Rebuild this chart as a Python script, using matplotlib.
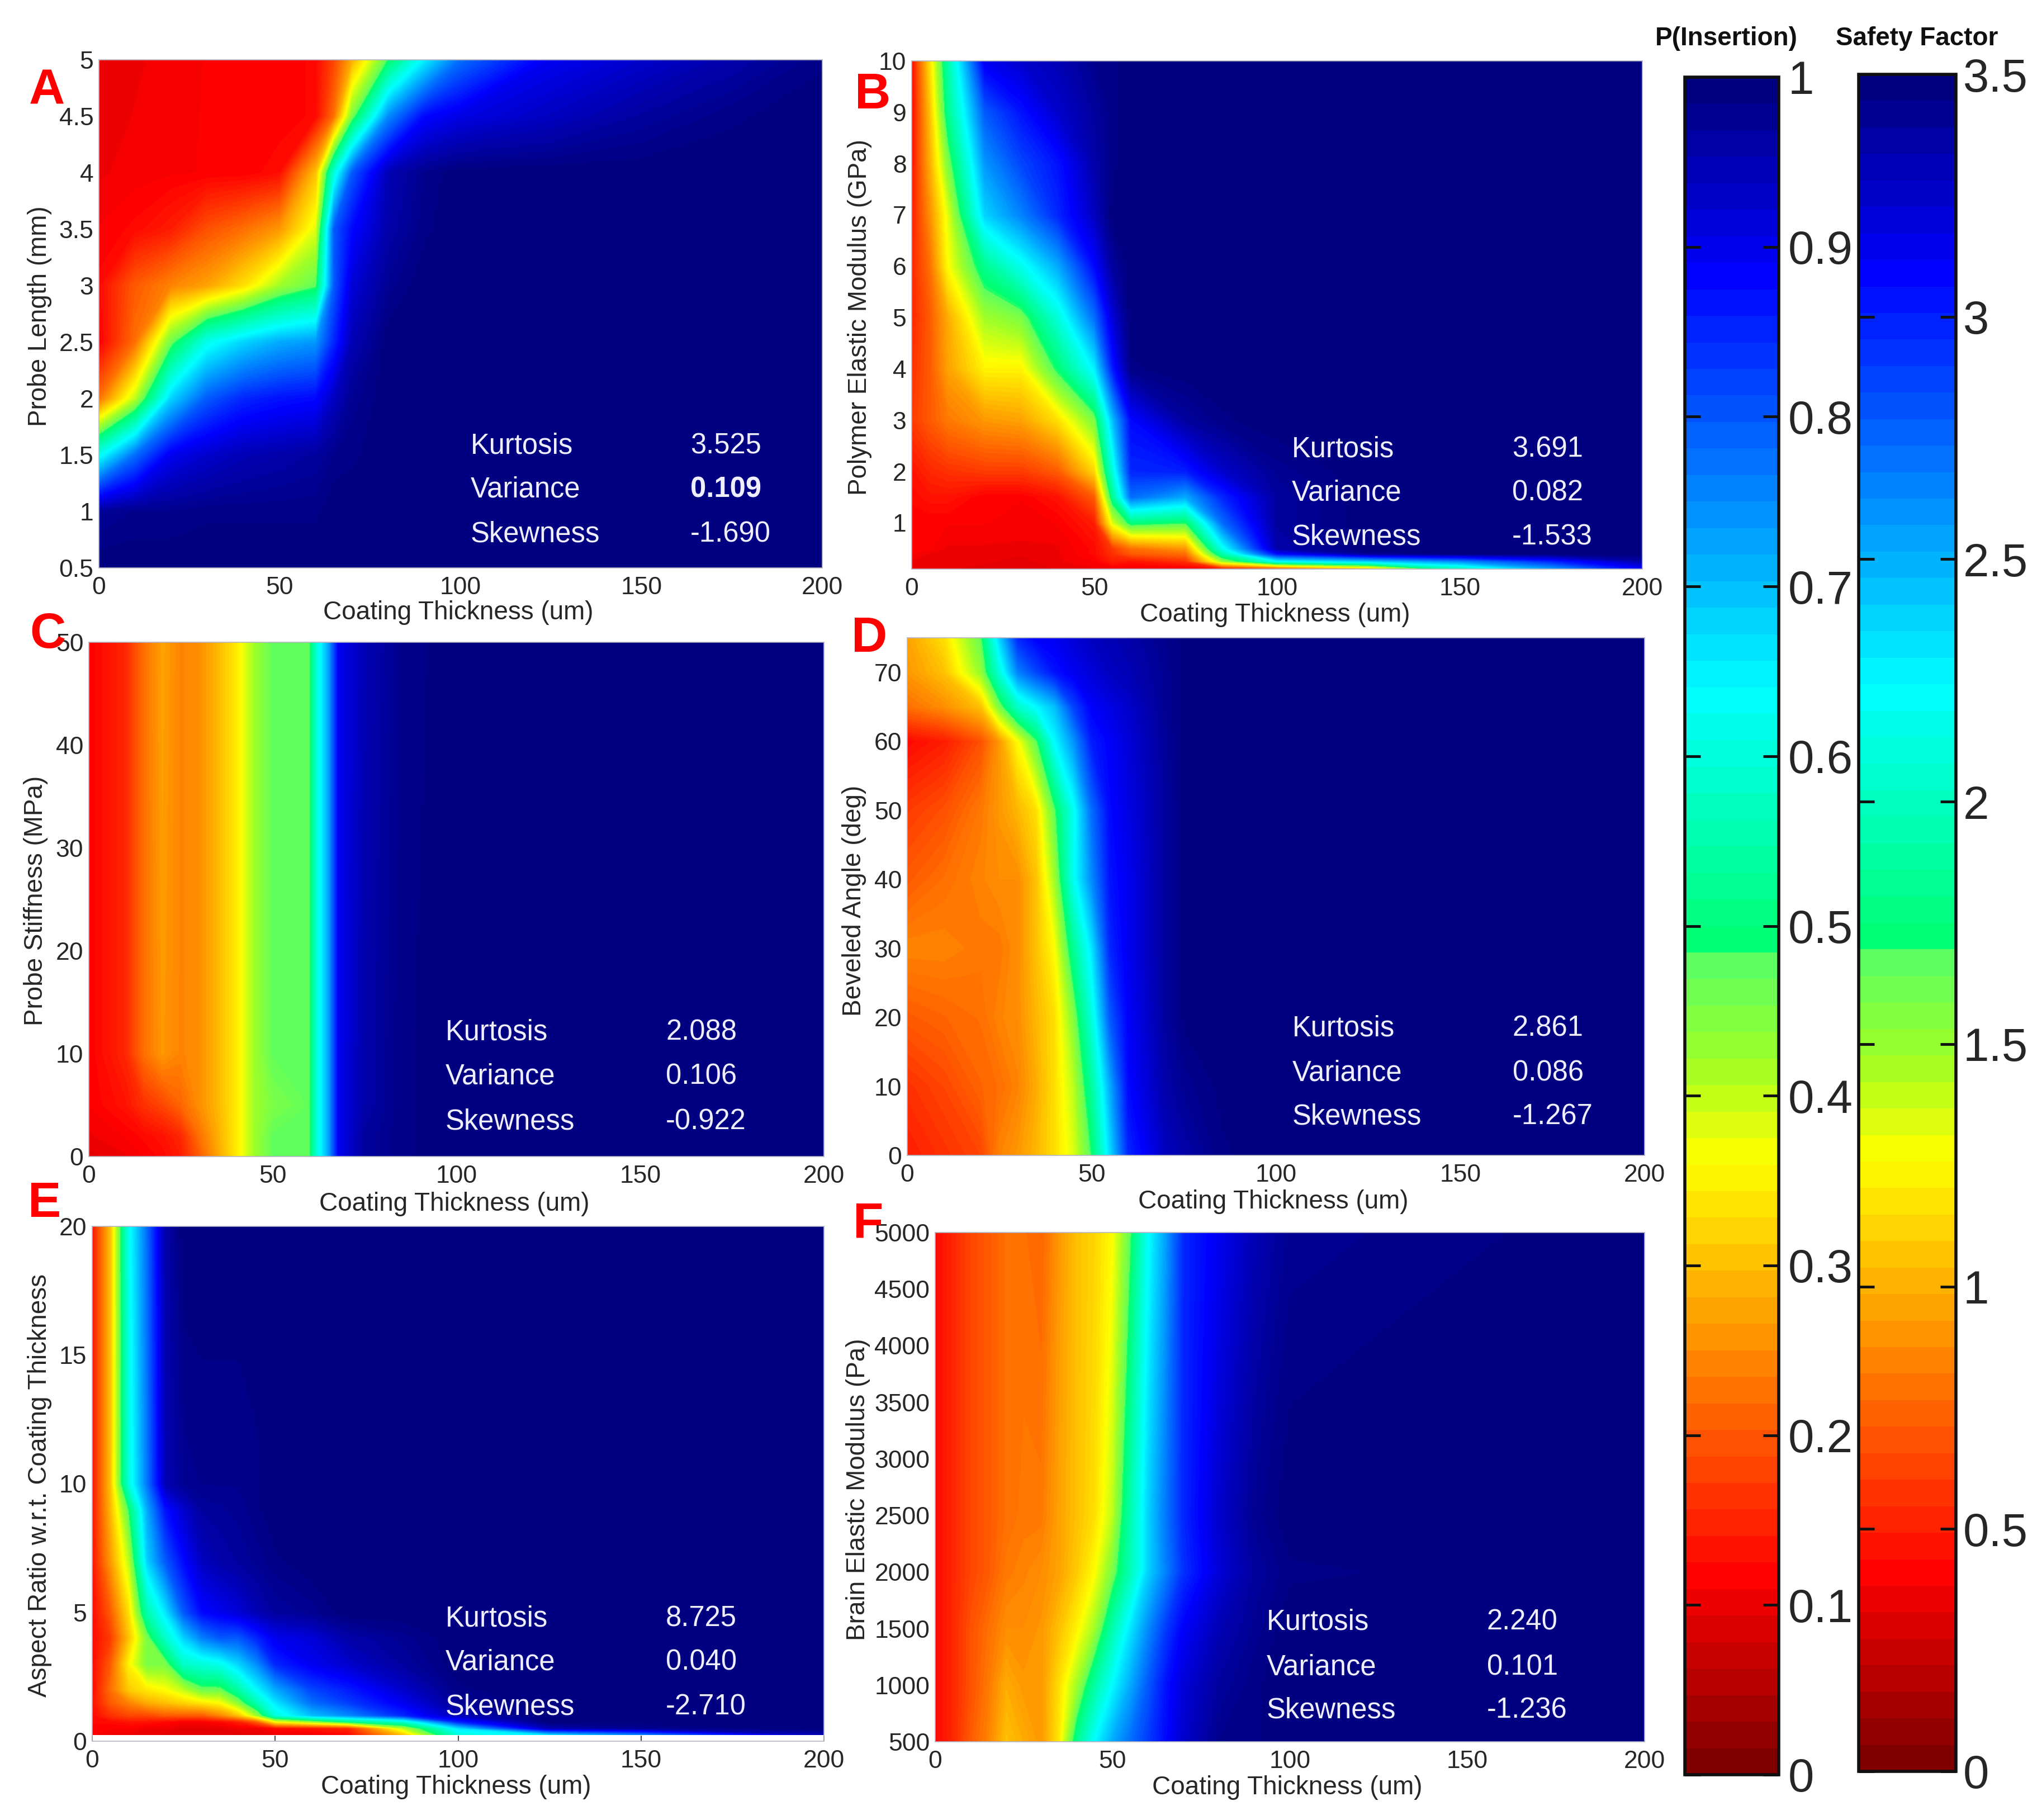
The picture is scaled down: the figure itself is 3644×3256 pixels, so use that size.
#!/usr/bin/env python3
"""Six insertion probability contour maps with two shared colour bars."""
import numpy as np
import matplotlib
matplotlib.use("Agg")
import matplotlib.pyplot as plt
from matplotlib.cm import ScalarMappable
from matplotlib.colors import LinearSegmentedColormap, Normalize

W, H = 3644, 3256

# --- data ---
A_X = [0, 10, 20, 30, 40, 50, 60, 65, 70, 80, 90, 100, 125, 150, 175, 200]
A_Y = [0.5, 1, 1.5, 2, 2.5, 3, 3.5, 4, 4.5, 5]
A_Z = [
    [1, 1, 1, 1, 1, 1, 1, 1, 1, 1, 1, 1, 1, 1, 1, 1],
    [.975, .985, .985, .99, .99, .99, .99, 1, 1, 1, 1, 1, 1, 1, 1, 1],
    [.62, .78, .9, .93, .95, .96, .97, .985, .99, 1, 1, 1, 1, 1, 1, 1],
    [.22, .4, .68, .8, .85, .87, .88, .94, .98, 1, 1, 1, 1, 1, 1, 1],
    [.11, .22, .46, .62, .68, .72, .74, .85, .95, 1, 1, 1, 1, 1, 1, 1],
    [.12, .2, .24, .27, .33, .42, .47, .8, .92, .98, 1, 1, 1, 1, 1, 1],
    [.11, .12, .14, .19, .22, .26, .38, .8, .88, .96, .99, 1, 1, 1, 1, 1],
    [.1, .105, .108, .11, .11, .125, .3, .6, .8, .95, .985, 1, 1, 1, 1, 1],
    [.097, .102, .107, .11, .11, .11, .12, .22, .45, .75, .88, .91, .94, .97, .99, 1],
    [.095, .1, .105, .11, .11, .11, .12, .18, .28, .48, .65, .78, .9, .93, .96, .99],
]

B_X = [0, 5, 10, 20, 30, 40, 50, 55, 60, 75, 85, 100, 125, 150, 175, 200]
B_Y = [0.1, 0.25, 0.4, 0.5, 1, 1.5, 2, 3, 4, 5, 6, 7, 8, 9, 10]
B_Z = [
    [.1, .1, .095, .09, .085, .095, .1, .1, .1, .1, .12, .16, .28, .55, .72, .88],
    [.1, .1, .1, .095, .09, .1, .11, .14, .13, .16, .42, .63, .68, .75, .85, .96],
    [.11, .1, .1, .1, .095, .1, .12, .16, .2, .22, .55, .88, .98, 1, 1, 1],
    [.11, .11, .1, .1, .1, .1, .12, .17, .22, .26, .62, .96, 1, 1, 1, 1],
    [.11, .11, .11, .11, .105, .11, .14, .38, .5, .48, .78, .97, 1, 1, 1, 1],
    [.12, .13, .13, .11, .11, .13, .2, .52, .78, .72, .85, .97, 1, 1, 1, 1],
    [.13, .15, .16, .17, .17, .2, .32, .6, .85, .86, .93, .98, 1, 1, 1, 1],
    [.17, .2, .23, .26, .27, .33, .45, .7, .88, .97, .99, 1, 1, 1, 1, 1],
    [.16, .2, .27, .35, .35, .49, .65, .86, .99, 1, 1, 1, 1, 1, 1, 1],
    [.15, .2, .28, .42, .45, .6, .78, .92, 1, 1, 1, 1, 1, 1, 1, 1],
    [.15, .22, .36, .52, .62, .72, .88, .97, 1, 1, 1, 1, 1, 1, 1, 1],
    [.14, .25, .38, .68, .76, .85, .94, 1, 1, 1, 1, 1, 1, 1, 1, 1],
    [.13, .28, .45, .74, .82, .87, .96, .99, 1, 1, 1, 1, 1, 1, 1, 1],
    [.12, .3, .52, .8, .87, .93, .97, .99, 1, 1, 1, 1, 1, 1, 1, 1],
    [.12, .33, .55, .9, .93, .95, .985, .99, 1, 1, 1, 1, 1, 1, 1, 1],
]

C_X = [0, 10, 15, 20, 25, 30, 35, 40, 45, 50, 60, 62, 65, 68, 75, 85, 100, 200]
C_Y = [0, 2, 5, 10, 50]
C_Z = [
    [.09, .1, .11, .12, .14, .2, .27, .34, .42, .47, .47, .6, .72, .9, .97, .99, 1, 1],
    [.1, .11, .12, .13, .15, .22, .28, .34, .42, .47, .47, .6, .72, .9, .97, .99, 1, 1],
    [.11, .13, .16, .18, .21, .25, .29, .34, .42, .45, .47, .6, .72, .9, .96, .99, 1, 1],
    [.11, .15, .22, .26, .24, .25, .29, .34, .42, .47, .47, .6, .72, .9, .96, .99, 1, 1],
    [.11, .15, .22, .27, .24, .25, .29, .34, .42, .47, .47, .6, .72, .9, .95, .985, 1, 1],
]

D_X = [0, 10, 20, 25, 30, 35, 40, 45, 50, 55, 60, 70, 75, 85, 100, 200]
D_Y = [0, 10, 20, 30, 40, 50, 60, 65, 70, 75]
D_Z = [
    [.14, .16, .18, .24, .26, .29, .33, .38, .48, .67, .85, .94, .96, .99, 1, 1],
    [.16, .18, .21, .22, .24, .28, .33, .4, .53, .72, .88, .96, .98, .995, 1, 1],
    [.2, .21, .22, .24, .25, .29, .33, .44, .6, .8, .89, .97, .995, 1, 1, 1],
    [.24, .24, .23, .23, .25, .3, .36, .52, .66, .85, .9, .97, .995, 1, 1, 1],
    [.2, .22, .24, .25, .25, .3, .42, .62, .75, .87, .9, .97, .995, 1, 1, 1],
    [.17, .19, .23, .26, .29, .33, .47, .62, .78, .88, .91, .97, .995, 1, 1, 1],
    [.12, .14, .19, .26, .36, .47, .64, .74, .86, .89, .92, .975, .995, 1, 1, 1],
    [.22, .25, .3, .45, .58, .64, .7, .82, .89, .91, .93, .98, .995, 1, 1, 1],
    [.26, .3, .43, .6, .76, .82, .87, .9, .92, .94, .95, .98, .995, 1, 1, 1],
    [.27, .33, .47, .68, .85, .89, .9, .92, .94, .95, .96, .985, .995, 1, 1, 1],
]

E_X = [0, 5, 10, 15, 20, 25, 30, 35, 40, 45, 50, 60, 70, 85, 100, 125, 150, 200]
E_Y = [0.25, 0.5, 0.75, 1, 1.5, 2, 3, 4, 5, 7, 9, 10, 20]
E_Z = [
    [.11, .1, .1, .1, .09, .09, .09, .09, .09, .09, .1, .1, .12, .3, .6, .66, .75, .95],
    [.11, .11, .11, .1, .1, .09, .09, .09, .1, .1, .12, .13, .15, .4, .66, .95, .98, 1],
    [.12, .12, .13, .13, .12, .11, .11, .12, .14, .2, .35, .42, .5, .58, .85, 1, 1, 1],
    [.12, .16, .18, .18, .2, .2, .2, .24, .3, .42, .6, .7, .75, .85, .95, 1, 1, 1],
    [.13, .2, .24, .28, .3, .32, .34, .36, .44, .56, .66, .78, .83, .9, .98, 1, 1, 1],
    [.12, .22, .31, .34, .36, .4, .46, .46, .54, .64, .72, .82, .86, .93, .99, 1, 1, 1],
    [.12, .2, .35, .45, .45, .58, .6, .62, .68, .75, .85, .9, .93, .97, 1, 1, 1, 1],
    [.12, .17, .3, .45, .58, .68, .76, .8, .8, .85, .9, .92, .96, .98, 1, 1, 1, 1],
    [.12, .2, .33, .55, .66, .8, .88, .9, .92, .95, .97, .98, 1, 1, 1, 1, 1, 1],
    [.13, .26, .4, .68, .8, .88, .94, .96, .97, .98, .99, 1, 1, 1, 1, 1, 1, 1],
    [.13, .29, .48, .72, .87, .93, .97, .975, .98, .99, 1, 1, 1, 1, 1, 1, 1, 1],
    [.13, .3, .6, .77, .95, .98, .985, .985, .985, .99, 1, 1, 1, 1, 1, 1, 1, 1],
    [.13, .3, .62, .78, .96, 1, 1, 1, 1, 1, 1, 1, 1, 1, 1, 1, 1, 1],
]

F_X = [0, 5, 10, 15, 20, 25, 30, 35, 40, 45, 50, 55, 60, 65, 70, 80, 90, 100, 200]
F_Y = [500, 1000, 1500, 2000, 2500, 5000]
F_Z = [
    [.12, .15, .2, .24, .3, .28, .26, .34, .52, .64, .72, .78, .83, .88, .93, .985, .99, 1, 1],
    [.12, .15, .19, .23, .28, .26, .26, .33, .42, .54, .64, .72, .8, .87, .92, .97, .99, 1, 1],
    [.12, .15, .19, .22, .25, .25, .26, .3, .35, .42, .55, .66, .75, .83, .89, .95, .98, 1, 1],
    [.12, .15, .18, .2, .23, .24, .25, .27, .31, .36, .45, .56, .68, .76, .84, .92, .97, .99, 1],
    [.12, .15, .18, .2, .22, .23, .23, .27, .3, .33, .4, .55, .68, .77, .85, .93, .98, 1, 1],
    [.12, .15, .18, .2, .22, .22, .21, .26, .3, .32, .36, .47, .63, .73, .85, .9, .95, .98, 1],
]

X_TICKS = [0, 50, 100, 150, 200]
A_TICKS = [0.5, 1, 1.5, 2, 2.5, 3, 3.5, 4, 4.5, 5]
B_TICKS = [1, 2, 3, 4, 5, 6, 7, 8, 9, 10]
C_TICKS = [0, 10, 20, 30, 40, 50]
D_TICKS = [0, 10, 20, 30, 40, 50, 60, 70]
E_TICKS = [0, 5, 10, 15, 20]
F_TICKS = [500, 1000, 1500, 2000, 2500, 3000, 3500, 4000, 4500, 5000]

STAT_NAMES = ["Kurtosis", "Variance", "Skewness"]
A_STATS = ["3.525", "0.109", "-1.690"]
B_STATS = ["3.691", "0.082", "-1.533"]
C_STATS = ["2.088", "0.106", "-0.922"]
D_STATS = ["2.861", "0.086", "-1.267"]
E_STATS = ["8.725", "0.040", "-2.710"]
F_STATS = ["2.240", "0.101", "-1.236"]

P_TICKS = [0, .1, .2, .3, .4, .5, .6, .7, .8, .9, 1]
SF_TICKS = [0, .5, 1, 1.5, 2, 2.5, 3, 3.5]

XLABEL = "Coating Thickness (um)"
TICK_COL = "#262626"
STAT_COL = "#eeeeff"

plt.rcParams["font.family"] = ["Liberation Sans", "DejaVu Sans"]

# jet flipped, with the jump the source has just under 0.5
CMAP = LinearSegmentedColormap.from_list("pins", [
    (0, (.5, 0, 0)), (.11, (1, 0, 0)), (.36, (1, 1, 0)), (.42, (.62, 1, .15)),
    (.477, (.36, 1, .38)), (.482, (0, 1, .42)), (.64, (0, 1, 1)),
    (.89, (0, 0, 1)), (1, (0, 0, .5))], N=256)
BAR_CMAP = CMAP.resampled(64)
MAP_CMAP = CMAP.resampled(128)

fig = plt.figure(figsize=(W / 100, H / 100), dpi=100)
fig.patch.set_facecolor("white")


def add_ax(x0, y0, x1, y1):
    # rect given in image pixels, y down
    return fig.add_axes([x0 / W, 1 - y1 / H, (x1 - x0) / W, (y1 - y0) / H])


def ftext(x, y, s, **kw):
    kw.setdefault("ha", "center")
    kw.setdefault("va", "center")
    return fig.text(x / W, 1 - y / H, s, **kw)


def panel(rect, x, y, z, ylim, yticks, letter, letter_xy, ylabel, ylabel_xy,
          xlabel_xy, stats, stat_x, stat_y, bold_var=False, ticked=False):
    ax = add_ax(*rect)
    ax.contourf(x, y, np.array(z), levels=np.linspace(0, 1, 129), cmap=MAP_CMAP,
                vmin=0, vmax=1, antialiased=False)
    ax.set_xlim(0, 200)
    ax.set_ylim(*ylim)
    ax.set_xticks(X_TICKS)
    ax.set_yticks(yticks)
    ax.set_yticklabels([f"{t:g}" for t in yticks])
    ax.tick_params(axis="x", labelsize=32, colors=TICK_COL, pad=11,
                   length=7 if ticked else 0, direction="in", width=1.2)
    ax.tick_params(axis="y", labelsize=32, colors=TICK_COL, pad=7, length=0)
    for s in ax.spines.values():
        s.set_color("#b5b5c5")
        s.set_linewidth(1.2)
    ftext(letter_xy[0], letter_xy[1] + 7, letter, color="#ff0000", fontsize=64,
          fontweight="bold")
    ftext(*ylabel_xy, ylabel, color=TICK_COL, fontsize=33, rotation=90)
    ftext(xlabel_xy[0], xlabel_xy[1] + 4, XLABEL, color=TICK_COL, fontsize=33)
    for i in range(3):
        ftext(stat_x[0], stat_y[i] + 4, STAT_NAMES[i], ha="left", color=STAT_COL,
              fontsize=36.5)
        ftext(stat_x[1], stat_y[i] + 4, stats[i], ha="left", color=STAT_COL,
              fontsize=36.5,
              fontweight="bold" if bold_var and i == 1 else "normal")
    return ax


panel((177, 107, 1471, 1016), A_X, A_Y, A_Z, (0.5, 5), A_TICKS,
      "A", (84, 157), "Probe Length (mm)", (71, 566), (820, 1092),
      A_STATS, (842, 1235), (794, 872, 952), bold_var=True)
panel((1631, 109, 2938, 1018), B_X, B_Y, B_Z, (0.1, 10), B_TICKS,
      "B", (1561, 164), "Polymer Elastic Modulus (GPa)", (1538, 568), (2281, 1096),
      B_STATS, (2311, 2705), (800, 878, 957))
panel((159, 1149, 1474, 2069), C_X, C_Y, C_Z, (0, 50), C_TICKS,
      "C", (85, 1129), "Probe Stiffness (MPa)", (64, 1611), (813, 2150),
      C_STATS, (797, 1191), (1843, 1922, 2003))
panel((1623, 1141, 2942, 2067), D_X, D_Y, D_Z, (0, 75), D_TICKS,
      "D", (1555, 1136), "Beveled Angle (deg)", (1528, 1611), (2278, 2146),
      D_STATS, (2312, 2706), (1836, 1916, 1994))
panel((165, 2194, 1474, 3115), E_X, E_Y, E_Z, (0, 20), E_TICKS,
      "E", (80, 2147), "Aspect Ratio w.r.t. Coating Thickness", (71, 2658), (816, 3193),
      E_STATS, (797, 1191), (2892, 2970, 3050), ticked=True)
panel((1673, 2205, 2942, 3116), F_X, F_Y, F_Z, (500, 5000), F_TICKS,
      "F", (1553, 2185), "Brain Elastic Modulus (Pa)", (1535, 2665), (2303, 3194),
      F_STATS, (2266, 2660), (2898, 2979, 3056))


def colorbar(rect, vmax, ticks, title, title_x, pad):
    cax = add_ax(*rect)
    sm = ScalarMappable(Normalize(0, vmax), BAR_CMAP)
    cb = fig.colorbar(sm, cax=cax)
    cb.set_ticks(ticks)
    cb.set_ticklabels([f"{t:g}" for t in ticks])
    cb.minorticks_off()
    cax.tick_params(axis="y", direction="in", left=True, right=True,
                    labelleft=False, labelright=True, length=20, width=3.5,
                    color="#101010", labelsize=60, labelcolor=TICK_COL, pad=pad)
    cb.outline.set_edgecolor("#101010")
    cb.outline.set_linewidth(4)
    ftext(title_x, 69, title, color="#101010", fontsize=33, fontweight="bold")


colorbar((3014, 138, 3182, 3175), 1, P_TICKS, "P(Insertion)", 3088, 12)
colorbar((3325, 133, 3499, 3169), 3.5, SF_TICKS, "Safety Factor", 3429, 9)

fig.savefig("out.png", dpi=100, facecolor="white")
plt.close(fig)
print("wrote out.png")
